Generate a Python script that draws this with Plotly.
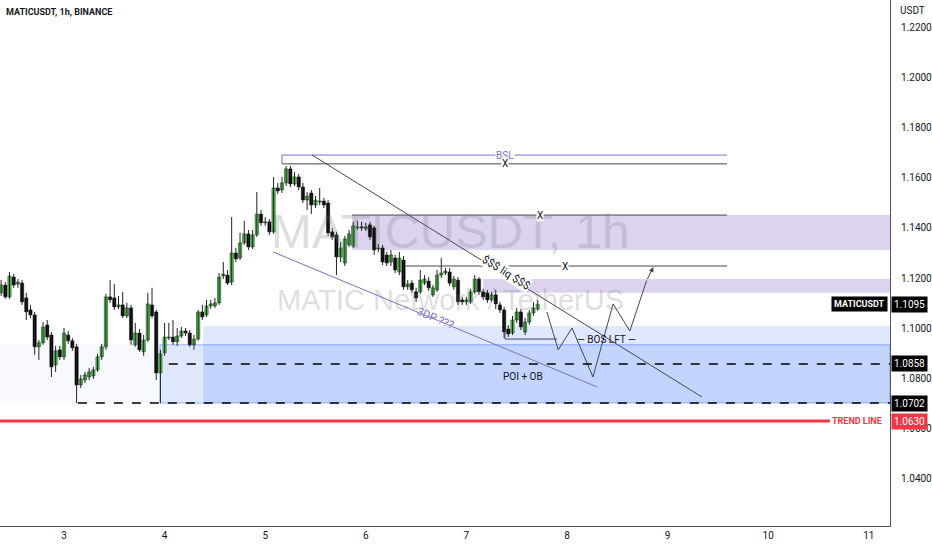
import pandas as pd
import plotly.graph_objects as go

# MATICUSDT 1h candles, first bar 2 Apr 09:00
first_bar = "2023-04-02 09:00"
opens = [
    1.1141, 1.1172, 1.1125, 1.1204, 1.1176, 1.1180, 1.1121, 1.1073, 1.1053, 1.0926,
    1.0942, 1.1013, 1.0973, 1.0854, 1.0914, 1.0886, 1.0973, 1.0950, 1.0926, 1.0774,
    1.0794, 1.0806, 1.0810, 1.0834, 1.0886, 1.0926, 1.1125, 1.1121, 1.1085, 1.1093,
    1.1049, 1.1081, 1.0934, 1.0981, 1.0906, 1.0953, 1.1093, 1.1065, 1.0822, 1.0902,
    1.0961, 1.0965, 1.0946, 1.0969, 1.0989, 1.0981, 1.0934, 1.0957, 1.1065, 1.1053,
    1.1089, 1.1089, 1.1101, 1.1208, 1.1212, 1.1184, 1.1300, 1.1280, 1.1340, 1.1376,
    1.1324, 1.1372, 1.1455, 1.1420, 1.1424, 1.1384, 1.1559, 1.1551, 1.1579, 1.1635,
    1.1575, 1.1603, 1.1563, 1.1511, 1.1539, 1.1491, 1.1503, 1.1507, 1.1499, 1.1384,
    1.1372, 1.1284, 1.1260, 1.1332, 1.1328, 1.1400, 1.1404, 1.1396, 1.1412, 1.1400,
    1.1316, 1.1320, 1.1292, 1.1264, 1.1280, 1.1224, 1.1272, 1.1165, 1.1180, 1.1145,
    1.1145, 1.1180, 1.1188, 1.1133, 1.1153, 1.1212, 1.1220, 1.1224, 1.1165, 1.1192,
    1.1113, 1.1105, 1.1105, 1.1145, 1.1196, 1.1145, 1.1141, 1.1113, 1.1133, 1.1093,
    1.1073, 1.0997, 1.0981, 1.1033, 1.1065, 1.0985, 1.1025, 1.1061, 1.1077,
]
highs = [
    1.1192, 1.1184, 1.1224, 1.1216, 1.1196, 1.1192, 1.1141, 1.1093, 1.1065, 1.0953,
    1.1025, 1.1033, 1.0985, 1.0930, 1.0930, 1.1001, 1.0989, 1.0961, 1.0938, 1.0814,
    1.0826, 1.0842, 1.0846, 1.0898, 1.0938, 1.1137, 1.1192, 1.1176, 1.1129, 1.1145,
    1.1101, 1.1093, 1.1021, 1.0997, 1.0973, 1.1141, 1.1161, 1.1073, 1.0914, 1.1021,
    1.1021, 1.1033, 1.1001, 1.1005, 1.1001, 1.0993, 1.0973, 1.1073, 1.1093, 1.1113,
    1.1113, 1.1121, 1.1220, 1.1264, 1.1232, 1.1443, 1.1320, 1.1380, 1.1428, 1.1392,
    1.1392, 1.1543, 1.1471, 1.1443, 1.1435, 1.1603, 1.1579, 1.1603, 1.1647, 1.1647,
    1.1623, 1.1615, 1.1579, 1.1543, 1.1551, 1.1527, 1.1559, 1.1519, 1.1511, 1.1400,
    1.1384, 1.1344, 1.1368, 1.1392, 1.1424, 1.1428, 1.1424, 1.1420, 1.1424, 1.1408,
    1.1336, 1.1332, 1.1304, 1.1312, 1.1292, 1.1304, 1.1288, 1.1192, 1.1192, 1.1161,
    1.1232, 1.1212, 1.1204, 1.1172, 1.1232, 1.1280, 1.1240, 1.1240, 1.1208, 1.1204,
    1.1125, 1.1125, 1.1157, 1.1212, 1.1204, 1.1157, 1.1153, 1.1145, 1.1153, 1.1105,
    1.1085, 1.1013, 1.1049, 1.1081, 1.1077, 1.1041, 1.1073, 1.1105, 1.1113,
]
lows = [
    1.1129, 1.1117, 1.1117, 1.1161, 1.1161, 1.1093, 1.1033, 1.1041, 1.0894, 1.0874,
    1.0934, 1.0953, 1.0806, 1.0826, 1.0874, 1.0874, 1.0938, 1.0910, 1.0702, 1.0762,
    1.0782, 1.0794, 1.0798, 1.0826, 1.0874, 1.0914, 1.1101, 1.1073, 1.1077, 1.1041,
    1.1041, 1.0934, 1.0926, 1.0906, 1.0890, 1.0946, 1.1041, 1.0794, 1.0702, 1.0890,
    1.0953, 1.0934, 1.0930, 1.0961, 1.0969, 1.0926, 1.0914, 1.0950, 1.1033, 1.1045,
    1.1077, 1.1081, 1.1093, 1.1196, 1.1172, 1.1172, 1.1264, 1.1272, 1.1332, 1.1312,
    1.1316, 1.1364, 1.1408, 1.1408, 1.1372, 1.1376, 1.1535, 1.1539, 1.1567, 1.1563,
    1.1567, 1.1551, 1.1499, 1.1471, 1.1455, 1.1479, 1.1491, 1.1479, 1.1368, 1.1352,
    1.1212, 1.1264, 1.1248, 1.1324, 1.1320, 1.1392, 1.1388, 1.1388, 1.1352, 1.1292,
    1.1304, 1.1252, 1.1248, 1.1248, 1.1220, 1.1212, 1.1153, 1.1153, 1.1141, 1.1105,
    1.1137, 1.1172, 1.1149, 1.1125, 1.1145, 1.1200, 1.1212, 1.1169, 1.1153, 1.1093,
    1.1093, 1.1093, 1.1097, 1.1137, 1.1133, 1.1113, 1.1101, 1.1105, 1.1077, 1.1061,
    1.0961, 1.0965, 1.0973, 1.1021, 1.0993, 1.0973, 1.1013, 1.1049, 1.1069,
]
closes = [
    1.1172, 1.1125, 1.1208, 1.1172, 1.1184, 1.1105, 1.1065, 1.1053, 1.0926, 1.0942,
    1.1005, 1.0965, 1.0846, 1.0910, 1.0886, 1.0981, 1.0950, 1.0922, 1.0774, 1.0798,
    1.0814, 1.0826, 1.0834, 1.0886, 1.0926, 1.1125, 1.1113, 1.1085, 1.1093, 1.1049,
    1.1081, 1.0953, 1.0981, 1.0914, 1.0953, 1.1097, 1.1049, 1.0822, 1.0898, 1.0965,
    1.0965, 1.0946, 1.0969, 1.0989, 1.0981, 1.0934, 1.0957, 1.1065, 1.1045, 1.1089,
    1.1097, 1.1101, 1.1204, 1.1216, 1.1180, 1.1300, 1.1276, 1.1340, 1.1376, 1.1324,
    1.1372, 1.1455, 1.1420, 1.1424, 1.1384, 1.1559, 1.1547, 1.1579, 1.1635, 1.1575,
    1.1603, 1.1563, 1.1511, 1.1527, 1.1491, 1.1511, 1.1507, 1.1491, 1.1380, 1.1364,
    1.1284, 1.1320, 1.1356, 1.1376, 1.1408, 1.1404, 1.1400, 1.1404, 1.1364, 1.1312,
    1.1320, 1.1264, 1.1260, 1.1292, 1.1232, 1.1280, 1.1165, 1.1176, 1.1153, 1.1121,
    1.1192, 1.1196, 1.1161, 1.1161, 1.1212, 1.1220, 1.1228, 1.1180, 1.1196, 1.1105,
    1.1105, 1.1113, 1.1145, 1.1196, 1.1145, 1.1125, 1.1113, 1.1133, 1.1097, 1.1073,
    1.0985, 1.0977, 1.1033, 1.1065, 1.1005, 1.1025, 1.1061, 1.1081, 1.1095,
]

day_ticks = ["3", "4", "5", "6", "7", "8", "9", "10", "11"]
price_ticks = [1.04, 1.06, 1.08, 1.10, 1.12, 1.14, 1.16, 1.18, 1.20, 1.22]

last_price = 1.1095
poi_level = 1.0858
low_level = 1.0702
trend_level = 1.0630


def main():
    base = pd.Timestamp("2023-04-03")

    def at(h):
        # hours from 3 Apr 00:00
        return base + pd.Timedelta(hours=h)

    times = pd.date_range(first_bar, periods=len(closes), freq="h")
    x_lo, x_hi = at(-15.27), at(197.06)
    y_lo, y_hi = 1.0212, 1.2308

    dark = "#434651"
    purple = "#7b6fc6"

    # candles: wicks + bodies
    wx, wy = [], []
    for t, hi, lo in zip(times, highs, lows):
        wx += [t, t, None]
        wy += [lo, hi, None]
    up = [c >= o for o, c in zip(opens, closes)]
    body_base = [min(o, c) for o, c in zip(opens, closes)]
    body_len = [max(abs(c - o), 0.00012) for o, c in zip(opens, closes)]
    body_col = ["#46d046" if u else "#000000" for u in up]

    fig = go.Figure()
    fig.add_trace(go.Scatter(x=wx, y=wy, mode="lines", line=dict(color="#222222", width=1),
                             hoverinfo="skip", showlegend=False))
    fig.add_trace(go.Bar(x=times, y=body_len, base=body_base, width=0.78 * 3600 * 1000,
                         marker=dict(color=body_col, line=dict(color="#1e1e1e", width=0.5)),
                         hoverinfo="skip", showlegend=False))

    # projected path
    zz_h = [115.2, 117.9, 121.2, 126.2, 131.0, 135.0, 139.0]
    zz_p = [1.1065, 1.0914, 1.1001, 1.0806, 1.1097, 1.0989, 1.1190]
    fig.add_trace(go.Scatter(x=[at(h) for h in zz_h], y=zz_p, mode="lines",
                             line=dict(color=dark, width=1),
                             hoverinfo="skip", showlegend=False))

    shapes = []
    # zones
    shapes.append(dict(type="rect", xref="x", yref="y", layer="below",
                       x0=x_lo, x1=at(22.9), y0=low_level, y1=1.0938,
                       fillcolor="rgba(41,98,255,0.04)", line_width=0))
    shapes.append(dict(type="rect", xref="x", yref="y", layer="below",
                       x0=at(22.9), x1=x_hi, y0=low_level, y1=1.0934,
                       fillcolor="rgba(41,98,255,0.15)",
                       line=dict(color="rgba(41,98,255,0.45)", width=1)))
    shapes.append(dict(type="rect", xref="x", yref="y", layer="below",
                       x0=at(33.2), x1=x_hi, y0=low_level, y1=1.1009,
                       fillcolor="rgba(41,98,255,0.15)", line_width=0))
    shapes.append(dict(type="rect", xref="x", yref="y", layer="below",
                       x0=at(68.7), x1=x_hi, y0=1.1312, y1=1.1451,
                       fillcolor="rgba(149,117,205,0.32)", line_width=0))
    shapes.append(dict(type="rect", xref="x", yref="y", layer="below",
                       x0=at(100.0), x1=x_hi, y0=1.1141, y1=1.1196,
                       fillcolor="rgba(149,117,205,0.32)", line_width=0))
    # BSL box
    shapes.append(dict(type="line", x0=at(52.0), x1=at(158.2), y0=1.1690, y1=1.1690,
                       line=dict(color=purple, width=1)))
    shapes.append(dict(type="line", x0=at(52.0), x1=at(158.2), y0=1.1655, y1=1.1655,
                       line=dict(color=dark, width=1)))
    shapes.append(dict(type="line", x0=at(52.0), x1=at(52.0), y0=1.1655, y1=1.1690,
                       line=dict(color=purple, width=1)))
    # liquidity lines
    shapes.append(dict(type="line", x0=at(68.7), x1=at(158.2), y0=1.1451, y1=1.1451,
                       line=dict(color=dark, width=1)))
    shapes.append(dict(type="line", x0=at(81.4), x1=at(158.2), y0=1.1248, y1=1.1248,
                       line=dict(color=dark, width=1)))
    # trend lines
    shapes.append(dict(type="line", x0=at(59.2), x1=at(152.2), y0=1.1690, y1=1.0726,
                       line=dict(color=dark, width=1)))
    shapes.append(dict(type="line", x0=at(49.9), x1=at(127.2), y0=1.1304, y1=1.0766,
                       line=dict(color=purple, width=1)))
    # BOS
    shapes.append(dict(type="line", x0=at(105.2), x1=at(105.2), y0=1.0993, y1=1.0957,
                       line=dict(color=dark, width=1)))
    shapes.append(dict(type="line", x0=at(105.2), x1=at(117.6), y0=1.0957, y1=1.0957,
                       line=dict(color=dark, width=1)))
    # levels
    shapes.append(dict(type="line", x0=at(25.0), x1=x_hi, y0=poi_level, y1=poi_level,
                       line=dict(color="#000000", width=1.5, dash="dash")))
    shapes.append(dict(type="line", x0=at(3.3), x1=x_hi, y0=low_level, y1=low_level,
                       line=dict(color="#000000", width=1.5, dash="dash")))
    shapes.append(dict(type="line", x0=x_lo, x1=at(182.7), y0=trend_level, y1=trend_level,
                       line=dict(color="#f23645", width=3)))

    txt = dict(family="Roboto, Arial", size=10, color="#131722")
    ann = []
    # watermark
    ann.append(dict(xref="paper", yref="paper", x=0.506, y=0.56, showarrow=False,
                    text="MATICUSDT, 1h",
                    font=dict(family="Liberation Sans", size=49,
                              color="rgba(120,123,134,0.25)")))
    ann.append(dict(xref="paper", yref="paper", x=0.506, y=0.43, showarrow=False,
                    text="MATIC Network / TetherUS",
                    font=dict(family="Liberation Sans", size=29,
                              color="rgba(120,123,134,0.25)")))
    # drawing labels
    ann.append(dict(x=at(105.2), y=1.1690, text="BSL", showarrow=False, bgcolor="white",
                    borderpad=0, font=dict(txt, color=purple)))
    ann.append(dict(x=at(105.2), y=1.1655, text="X", showarrow=False, bgcolor="white",
                    borderpad=0, font=txt))
    ann.append(dict(x=at(113.6), y=1.1451, text="X", showarrow=False, bgcolor="white",
                    borderpad=0, font=txt))
    ann.append(dict(x=at(119.5), y=1.1248, text="X", showarrow=False, bgcolor="white",
                    borderpad=0, font=txt))
    ann.append(dict(x=at(105.4), y=1.1222, text="$$$ liq $$$", showarrow=False,
                    textangle=32, bgcolor="white", borderpad=0, font=dict(txt, size=11)))
    ann.append(dict(x=at(88.7), y=1.1040, text="3DP ???", showarrow=False,
                    textangle=23, font=dict(txt, size=11, color=purple)))
    ann.append(dict(x=at(129.5), y=1.0957, text="— BOS LFT —", showarrow=False, font=txt))
    ann.append(dict(x=at(109.5), y=1.0806, text="POI + OB", showarrow=False, font=txt))
    # arrow head of the projected path
    ann.append(dict(x=at(140.6), y=1.1244, ax=at(139.0), ay=1.1190, axref="x", ayref="y",
                    text="", showarrow=True, arrowhead=2, arrowsize=1, arrowwidth=1,
                    arrowcolor=dark))
    # header texts
    ann.append(dict(xref="paper", yref="paper", x=0.004, y=1, yshift=-5, xanchor="left",
                    yanchor="top", showarrow=False, text="<b>MATICUSDT, 1h, BINANCE</b>",
                    font=dict(family="Roboto, Arial", size=9, color="#131722")))
    ann.append(dict(xref="paper", yref="paper", x=1, y=1, xshift=8, yshift=-3,
                    xanchor="left", yanchor="top", showarrow=False, text="USDT",
                    font=dict(family="Roboto, Arial", size=10, color="#131722")))
    # price tags on the scale
    tags = [(last_price, "#000000"), (poi_level, "#000000"),
            (low_level, "#000000"), (trend_level, "#f23645")]
    for price, col in tags:
        ann.append(dict(xref="paper", yref="y", x=1, y=price, xanchor="left", xshift=1,
                        showarrow=False, text=f"{price:.4f}", bgcolor=col, borderpad=2,
                        font=dict(family="Roboto, Arial", size=10, color="white")))
    ann.append(dict(xref="paper", yref="y", x=1, y=last_price, xanchor="right", xshift=-2,
                    showarrow=False, text="<b>MATICUSDT</b>", bgcolor="#000000", borderpad=2,
                    font=dict(family="Roboto, Arial", size=9, color="white")))
    ann.append(dict(xref="paper", yref="y", x=1, y=trend_level, xanchor="right", xshift=-6,
                    showarrow=False, text="<b>TREND LINE</b>",
                    font=dict(family="Roboto, Arial", size=9, color="#f23645")))

    fig.update_layout(
        width=932, height=550,
        margin=dict(l=0, r=42, t=0, b=24),
        paper_bgcolor="white", plot_bgcolor="white",
        showlegend=False, hovermode=False,
        shapes=shapes, annotations=ann,
        xaxis=dict(type="date", range=[x_lo, x_hi],
                   showgrid=False, zeroline=False, showline=True, linecolor="#50535e",
                   tickvals=[at(24 * i) for i in range(len(day_ticks))],
                   ticktext=day_ticks, ticks="",
                   tickfont=dict(family="Roboto, Arial", size=10, color="#131722")),
        yaxis=dict(side="right", range=[y_lo, y_hi], showgrid=False, zeroline=False,
                   showline=True, linecolor="#50535e", tickvals=price_ticks,
                   tickformat=".4f", ticks="", ticklabelstandoff=8,
                   tickfont=dict(family="Roboto, Arial", size=10, color="#131722")),
    )

    fig.write_html("out.html", config={"displayModeBar": False},
                   post_script="document.body.style.margin='0';")


if __name__ == "__main__":
    main()
